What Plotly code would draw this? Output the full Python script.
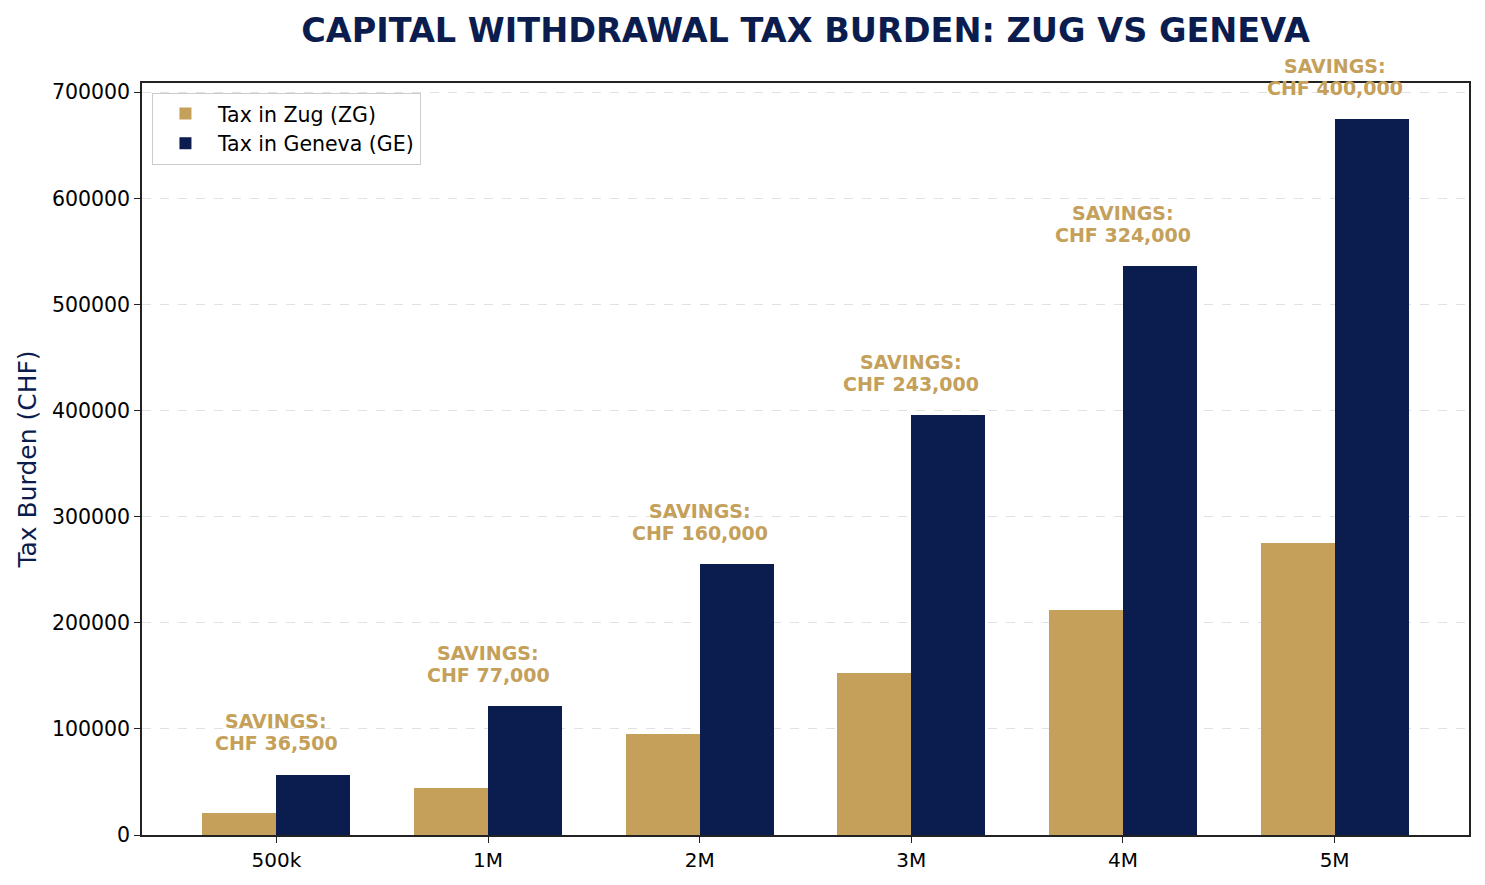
import plotly.graph_objects as go

# withdrawal amounts and cantonal tax (CHF)
categories = ["500k", "1M", "2M", "3M", "4M", "5M"]
tax_zug = [20500, 44500, 95500, 152500, 212000, 275000]
tax_geneva = [57000, 121500, 255500, 395500, 536000, 675000]
savings_labels = ["CHF 36,500", "CHF 77,000", "CHF 160,000",
                  "CHF 243,000", "CHF 324,000", "CHF 400,000"]

gold = "#C4A05A"
navy = "#0B1D4E"
font = "DejaVu Sans"

x = list(range(len(categories)))
w = 0.35

fig = go.Figure()
fig.add_trace(go.Bar(
    x=[i - w / 2 for i in x], y=tax_zug, width=w,
    name="Tax in Zug (ZG)", marker=dict(color=gold, line=dict(width=0)),
))
fig.add_trace(go.Bar(
    x=[i + w / 2 for i in x], y=tax_geneva, width=w,
    name="Tax in Geneva (GE)", marker=dict(color=navy, line=dict(width=0)),
))

# two single-line annotations so the line spacing can be tighter
ann_font = dict(family=font, size=19, color=gold, weight="bold")
for i, ge in enumerate(tax_geneva):
    fig.add_annotation(
        x=x[i], y=ge + 20000, xref="x", yref="y", yshift=-3,
        text=savings_labels[i], showarrow=False,
        yanchor="bottom", xanchor="center", font=ann_font,
    )
    fig.add_annotation(
        x=x[i], y=ge + 20000, xref="x", yref="y", yshift=19,
        text="SAVINGS:", showarrow=False,
        yanchor="bottom", xanchor="center", font=ann_font,
    )

# page body has an 8px margin, so margins are trimmed by that much
fig.update_layout(
    width=1485, height=885,
    paper_bgcolor="white", plot_bgcolor="white",
    margin=dict(l=134, r=24, t=75, b=58),
    barmode="overlay", bargap=0,
    font=dict(family=font, size=20, color="black"),
    title=dict(text="<b>CAPITAL WITHDRAWAL TAX BURDEN: ZUG VS GENEVA</b>",
               x=0.5, xref="paper", xanchor="center", y=0.988, yanchor="top",
               font=dict(family=font, size=33.5, color=navy)),
    legend=dict(x=0.0075, y=0.987, xanchor="left", yanchor="top",
                bordercolor="#CCCCCC", borderwidth=1, bgcolor="rgba(255,255,255,0.8)",
                itemwidth=55, font=dict(family=font, size=20.5)),
    showlegend=True,
)
fig.update_xaxes(
    range=[-0.635, 5.635], tickmode="array", tickvals=x, ticktext=categories,
    showgrid=False, zeroline=False,
    showline=True, linecolor="#222222", linewidth=1.5, mirror=True,
    ticks="outside", ticklen=6, tickcolor="#222222",
    tickfont=dict(size=20),
)
fig.update_yaxes(
    range=[0, 708750], tickmode="linear", dtick=100000, tickformat="d",
    showgrid=True, gridcolor="rgba(170,170,170,0.35)", griddash="dash",
    zeroline=False, layer="above traces",
    showline=True, linecolor="#222222", linewidth=1.5, mirror=True,
    ticks="outside", ticklen=6, tickcolor="#222222",
    tickfont=dict(size=20.5),
    title=dict(text="Tax Burden (CHF)", font=dict(family=font, size=25, color=navy),
               standoff=8),
)

fig.write_html("out.html")
